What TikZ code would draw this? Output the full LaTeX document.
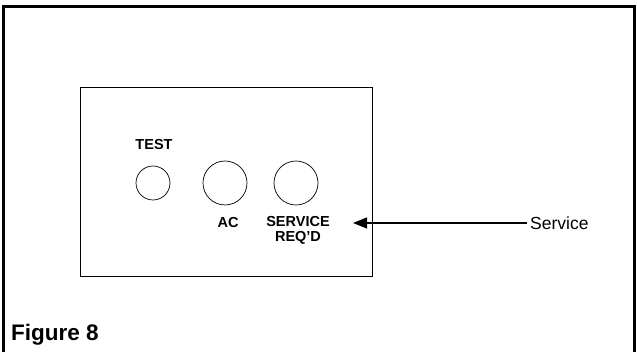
\documentclass[tikz,border=0pt]{standalone}
\usepackage{fontspec}
\setmainfont{Liberation Sans}
\usepackage{tikz}
\usetikzlibrary{arrows.meta}

\begin{document}
\begin{tikzpicture}[x=1pt,y=-1pt,
  lamp/.style={draw,circle,line width=0.7pt,inner sep=0pt},
  panellbl/.style={font=\fontsize{14.5}{15.5}\selectfont\bfseries,align=center,inner sep=0pt}]
\useasboundingbox (0,0) rectangle (637,352);
% frame, open at the bottom
\draw[line width=3pt] (3.5,352) -- (3.5,6.5) -- (634,6.5) -- (634,352);
% panel
\node[draw,line width=0.8pt,minimum width=292pt,minimum height=189pt,inner sep=0pt] (panel) at (226,181.5) {};
\node[lamp,minimum size=34pt] (test) at (153,183) {};
\node[lamp,minimum size=44pt] (ac) at (225,183) {};
\node[lamp,minimum size=44pt] (svc) at (296,183) {};
\node[panellbl] (testlbl) at (154,145) {TEST};
\node[panellbl] (aclbl) at (228,223) {AC};
\node[panellbl,anchor=north] (svclbl) at (298,216) {SERVICE\\REQ'D};
% callout
\coordinate (tip) at (353,223);
\node[anchor=west,inner sep=3pt,font=\fontsize{17.5}{19}\selectfont] (callout) at (527,223) {Service};
\draw[line width=1.2pt,-{Triangle[length=14pt,width=11pt]}] (callout.west) -- (tip);
\node[anchor=base west,inner sep=0pt,font=\fontsize{22.5}{25}\selectfont\bfseries] (caption) at (11,341) {Figure 8};
\end{tikzpicture}
\end{document}
